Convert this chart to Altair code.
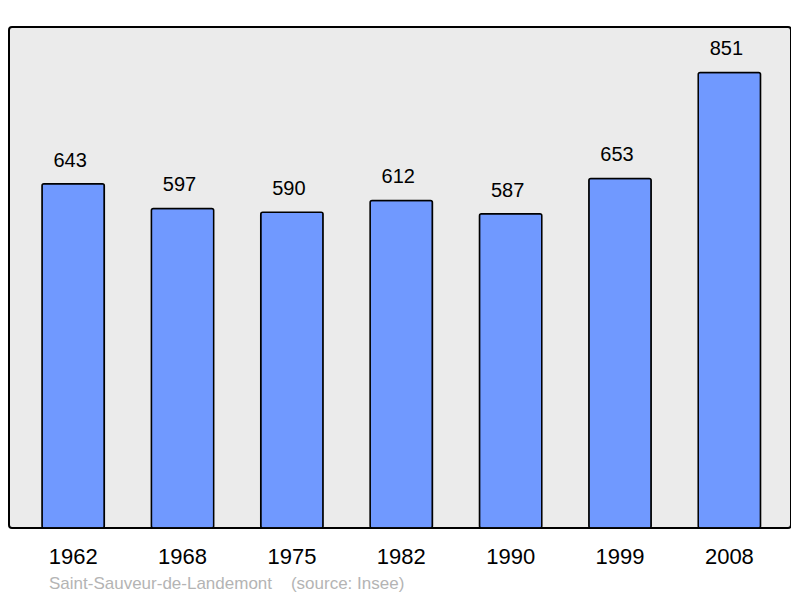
import altair as alt
import pandas as pd

years = ["1962", "1968", "1975", "1982", "1990", "1999", "2008"]
population = [643, 597, 590, 612, 587, 653, 851]
commune = "Saint-Sauveur-de-Landemont"
source = "(source: Insee)"

df = pd.DataFrame({"year": years, "pop": population})

x = alt.X("year:N", sort=years, title=None,
          scale=alt.Scale(paddingInner=0.43, paddingOuter=0.29, align=0.52),
          axis=alt.Axis(labelAngle=0, domain=False, ticks=False, labelPadding=18,
                        labelFontSize=22, labelFont="Liberation Sans", labelColor="#000"))
y = alt.Y("pop:Q", title=None, scale=alt.Scale(domain=[0, 936], nice=False),
          axis=None)

bars = alt.Chart(df).mark_bar(color="#7099ff", stroke="#000", strokeWidth=1.5,
                              cornerRadius=2).encode(x=x, y=y)
labels = alt.Chart(df).mark_text(dy=-23, dx=-3, fontSize=20, font="Liberation Sans",
                                 color="#000").encode(x=x, y=y, text="pop:Q")
src = alt.Chart(pd.DataFrame({"t": [commune + "\u00a0\u00a0\u00a0\u00a0" + source]})).mark_text(
    align="left", baseline="middle", fontSize=17, font="Liberation Sans", color="#b4b4b4"
).encode(x=alt.value(40), y=alt.value(557), text="t:N")

chart = alt.layer(bars, labels, src).properties(
    width=782, height=501,
    autosize=alt.AutoSizeParams(type="none"),
    padding={"left": 1, "top": 19, "right": 0, "bottom": 70},
    background="#ffffff",
).configure_view(
    fill="#ebebeb", stroke="#000", strokeWidth=2, cornerRadius=3
)

chart.save("out.html", embed_options={"renderer": "svg", "actions": False})
